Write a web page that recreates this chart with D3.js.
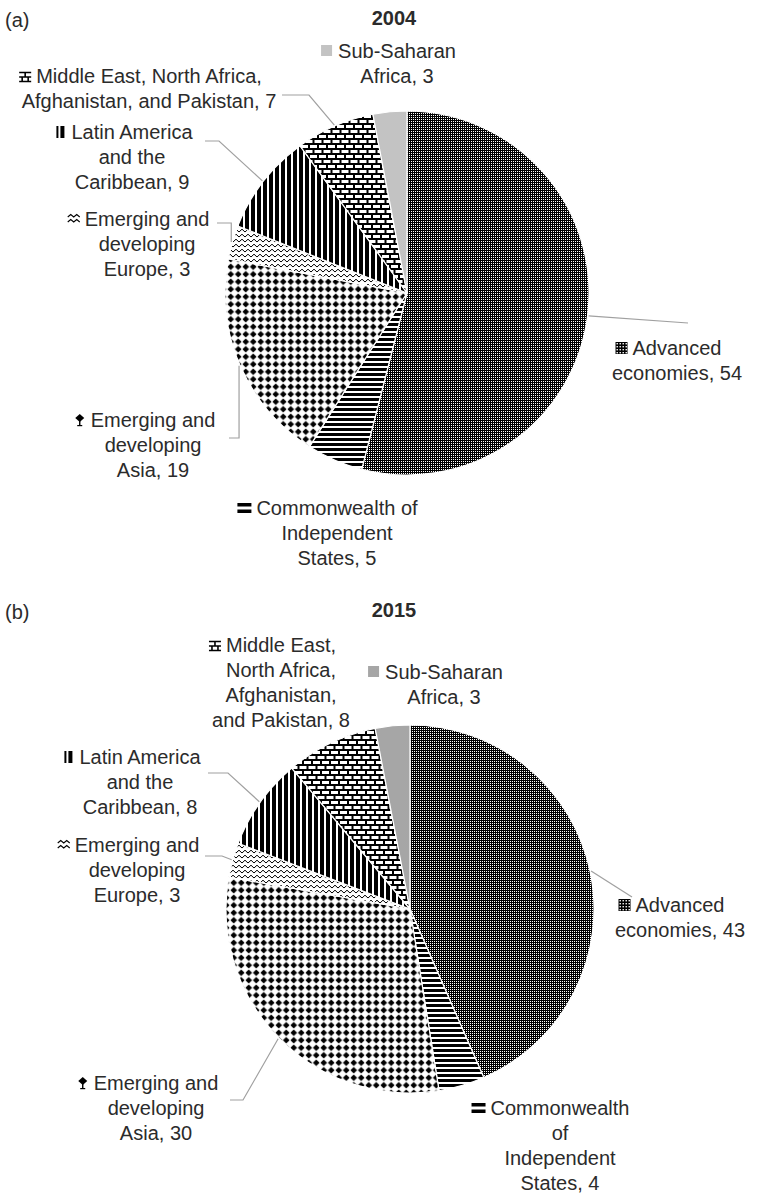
<!DOCTYPE html>
<html lang="en">
<head>
<meta charset="UTF-8">
<title>Regional shares 2004 / 2015</title>
<script src="https://d3js.org/d3.v7.min.js"></script>
<style>
  body { margin: 0; background: #fff; }
  text { font-family: "Liberation Sans", Arial, sans-serif; fill: #2b2b2b; }
</style>
</head>
<body>
<div id="chart"></div>
<script>
// slices, clockwise from 12 o'clock
var regions = ["adv", "cis", "asia", "eur", "lat", "me", "ssa"];
var values2004 = [54, 5, 19, 3, 9, 7, 3];
var values2015 = [43, 4, 30, 3, 8, 8, 3];

// label text, broken into lines the way the chart does it (value goes on the last line)
var names2004 = [
  ["Advanced", "economies"],
  ["Commonwealth of", "Independent", "States"],
  ["Emerging and", "developing", "Asia"],
  ["Emerging and", "developing", "Europe"],
  ["Latin America", "and the", "Caribbean"],
  ["Middle East, North Africa,", "Afghanistan, and Pakistan"],
  ["Sub-Saharan", "Africa"]
];
var names2015 = [
  ["Advanced", "economies"],
  ["Commonwealth", "of", "Independent", "States"],
  ["Emerging and", "developing", "Asia"],
  ["Emerging and", "developing", "Europe"],
  ["Latin America", "and the", "Caribbean"],
  ["Middle East,", "North Africa,", "Afghanistan,", "and Pakistan"],
  ["Sub-Saharan", "Africa"]
];

// layout: label centre x / first line y, leader bend points (null x = straight above/below slice)
var layout2004 = {
  title: "2004", tag: "(a)", top: 0, cx: 407, cy: 293, r: 182, ssa: "#c3c3c3",
  labels: [
    { x: 677, y: 348, leader: [[688, 323]] },
    { x: 337, y: 508 },
    { x: 153, y: 420, leader: [[229, 438], [null, 438]] },
    { x: 147, y: 219, leader: [[217, 223], [null, 223]] },
    { x: 132, y: 132, leader: [[205, 141], [219, 141]] },
    { x: 149, y: 76, leader: [[282, 95], [309, 95]] },
    { x: 397, y: 51 }
  ]
};
var layout2015 = {
  title: "2015", tag: "(b)", top: 592, cx: 410, cy: 909, r: 184, ssa: "#a6a6a6",
  labels: [
    { x: 680, y: 905, leader: [[632, 897]] },
    { x: 560, y: 1108 },
    { x: 156, y: 1083, leader: [[230, 1100], [243, 1100]] },
    { x: 137, y: 845, leader: [[205, 856], [222, 856]] },
    { x: 140, y: 757, leader: [[208, 773], [228, 773]] },
    { x: 281, y: 645 },
    { x: 444, y: 672 }
  ]
};

var width = 767, height = 1193, lineH = 25;

var svg = d3.select("#chart").append("svg")
  .attr("width", width)
  .attr("height", height);
var defs = svg.append("defs");

function pat(id, w, h, bg) {
  var p = defs.append("pattern").attr("id", id)
    .attr("patternUnits", "userSpaceOnUse")
    .attr("width", w).attr("height", h);
  p.append("rect").attr("width", w).attr("height", h).attr("fill", bg);
  return p;
}

// slice fills
var p = pat("adv", 2, 2, "#000");
p.append("rect").attr("width", 1).attr("height", 1).attr("fill", "#fff");

p = pat("cis", 10, 5, "#fff");
p.append("rect").attr("width", 10).attr("height", 3).attr("fill", "#000");

p = pat("asia", 7.5, 7.5, "#fff");
p.append("path").attr("d", "M3.75,0.4L7.1,3.75L3.75,7.1L0.4,3.75Z").attr("fill", "#000");

p = pat("eur", 6, 5, "#fff");
p.append("path").attr("d", "M0,4L3,1.2L6,4").attr("fill", "none").attr("stroke", "#000").attr("stroke-width", 1);

p = pat("lat", 6, 10, "#fff");
p.append("rect").attr("width", 4).attr("height", 10).attr("fill", "#000");

p = pat("me", 9, 10, "#000");
p.append("rect").attr("x", 2).attr("y", 2).attr("width", 7).attr("height", 3).attr("fill", "#fff");
p.append("rect").attr("x", 0).attr("y", 7).attr("width", 4.5).attr("height", 3).attr("fill", "#fff");
p.append("rect").attr("x", 6.5).attr("y", 7).attr("width", 2.5).attr("height", 3).attr("fill", "#fff");

// little legend keys in front of the labels
function drawKey(g, key, gray) {
  if (key == "adv") {
    g.append("rect").attr("width", 12).attr("height", 12).attr("fill", "#000");
    for (var i = 0; i < 4; i++)
      for (var j = 0; j < 4; j++)
        g.append("rect").attr("x", 1 + i * 3).attr("y", 1 + j * 3)
          .attr("width", 1.4).attr("height", 1.4).attr("fill", "#fff");
  } else if (key == "cis") {
    g.append("rect").attr("y", 1).attr("width", 14).attr("height", 3.5).attr("fill", "#000");
    g.append("rect").attr("y", 7.5).attr("width", 14).attr("height", 3.5).attr("fill", "#000");
  } else if (key == "asia") {
    g.append("path").attr("d", "M6,0L10.5,4L6,8L1.5,4Z").attr("fill", "#000");
    g.append("rect").attr("x", 5.3).attr("y", 7).attr("width", 1.4).attr("height", 4).attr("fill", "#000");
    g.append("rect").attr("x", 3.5).attr("y", 11).attr("width", 5).attr("height", 1.2).attr("fill", "#000");
  } else if (key == "eur") {
    g.append("path").attr("d", "M0,4L3,1.5L6,4L9,1.5L12,4M0,9L3,6.5L6,9L9,6.5L12,9")
      .attr("fill", "none").attr("stroke", "#000").attr("stroke-width", 1.1);
  } else if (key == "lat") {
    g.append("rect").attr("x", 2).attr("width", 2).attr("height", 12).attr("fill", "#000");
    g.append("rect").attr("x", 6).attr("width", 4).attr("height", 12).attr("fill", "#000");
  } else if (key == "me") {
    g.append("path").attr("d", "M0,2.5H12M6,2.5V7M0,7H12M3,7V11.5M9,7V11.5M0,11.5H12")
      .attr("fill", "none").attr("stroke", "#000").attr("stroke-width", 1.6);
  } else {
    g.append("rect").attr("width", 11).attr("height", 11).attr("fill", gray);
  }
}

function drawPie(values, names, L) {
  var data = regions.map(function (k, i) { return { key: k, value: values[i], lines: names[i] }; });
  var arcs = d3.pie().sort(null).value(function (d) { return d.value; })(data);
  var arc = d3.arc().innerRadius(0).outerRadius(L.r);

  svg.append("text").attr("x", 5).attr("y", L.top + 20).attr("dy", "0.35em")
    .style("font-size", "20px").text(L.tag);
  svg.append("text").attr("x", 394).attr("y", L.top + 18).attr("dy", "0.35em")
    .attr("text-anchor", "middle").style("font-size", "20px").style("font-weight", "bold")
    .text(L.title);

  var g = svg.append("g").attr("transform", "translate(" + L.cx + "," + L.cy + ")");
  g.selectAll("path").data(arcs).join("path")
    .attr("d", arc)
    .attr("fill", function (d) { return d.data.key == "ssa" ? L.ssa : "url(#" + d.data.key + ")"; })
    .attr("stroke", "#fff")
    .attr("stroke-width", 1.2);

  arcs.forEach(function (d, i) {
    var pos = L.labels[i];
    var mid = (d.startAngle + d.endAngle) / 2;
    var ax = L.cx + (L.r + 1) * Math.sin(mid);
    var ay = L.cy - (L.r + 1) * Math.cos(mid);

    if (pos.leader) {
      var pts = pos.leader.map(function (q) { return [q[0] == null ? ax : q[0], q[1]]; });
      pts.push([ax, ay]);
      svg.append("path")
        .attr("d", d3.line()(pts))
        .attr("fill", "none")
        .attr("stroke", "#a0a0a0")
        .attr("stroke-width", 1.2);
    }

    var lines = d.data.lines.slice();
    lines[lines.length - 1] += ", " + d.data.value;
    var first = null;
    lines.forEach(function (t, j) {
      var tx = svg.append("text")
        .attr("x", pos.x)
        .attr("y", pos.y + j * lineH)
        .attr("dy", "0.35em")
        .attr("text-anchor", "middle")
        .style("font-size", "20px")
        .text(t);
      if (j == 0) first = tx;
    });
    var bb = first.node().getBBox();
    var kw = d.data.key == "cis" ? 14 : 12;
    var key = svg.append("g")
      .attr("transform", "translate(" + (bb.x - kw - 5) + "," + (pos.y - 6) + ")");
    drawKey(key, d.data.key, L.ssa);
  });
}

drawPie(values2004, names2004, layout2004);
drawPie(values2015, names2015, layout2015);
</script>
</body>
</html>
